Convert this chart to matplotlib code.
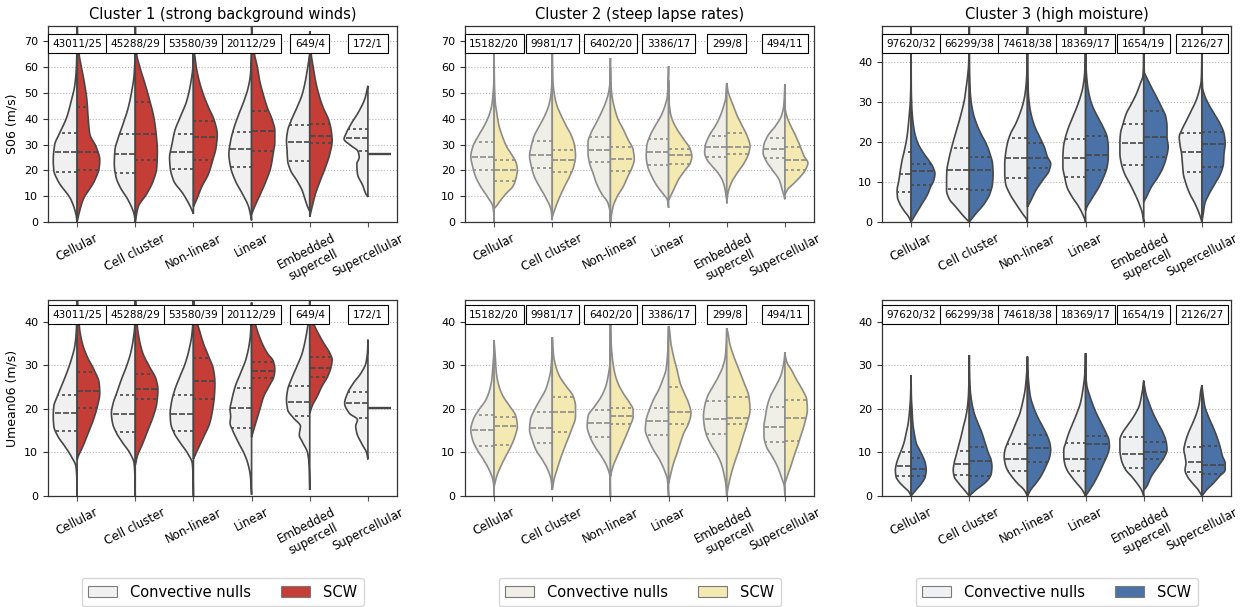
import numpy as np
import matplotlib
matplotlib.use("Agg")
import matplotlib.pyplot as plt
from matplotlib.patches import Patch

# ---------------------------------------------------------------- data
CATEGORIES = ["Cellular", "Cell cluster", "Non-linear", "Linear",
              "Embedded\nsupercell", "Supercellular"]
CLUSTER_TITLES = ["Cluster 1 (strong background winds)",
                  "Cluster 2 (steep lapse rates)",
                  "Cluster 3 (high moisture)"]
VARIABLE_LABELS = ["S06 (m/s)", "Umean06 (m/s)"]

C1_NULL_COUNTS = [43011, 45288, 53580, 20112, 649, 172]
C1_SCW_COUNTS = [25, 29, 39, 29, 4, 1]
C2_NULL_COUNTS = [15182, 9981, 6402, 3386, 299, 494]
C2_SCW_COUNTS = [20, 17, 20, 17, 8, 11]
C3_NULL_COUNTS = [97620, 66299, 74618, 18369, 1654, 2126]
C3_SCW_COUNTS = [32, 38, 38, 17, 19, 27]

# Density profiles: (value, scaled half-width) pairs per category.
# A bare number stands for a single observation.
C1_S06_NULL_SHAPE = [
    [(0, 0), (3, 0.02), (8.4, 0.10), (16, 0.33), (20, 0.40), (24, 0.41), (30, 0.385), (34, 0.31), (40.5, 0.18), (47, 0.10), (53, 0.04), (60, 0.012), (68, 0.003), (80, 0)],
    [(0, 0), (3, 0.02), (8.4, 0.12), (13.5, 0.26), (17.4, 0.33), (22.5, 0.36), (27.7, 0.35), (32.8, 0.29), (38, 0.21), (44.4, 0.12), (50.8, 0.06), (57, 0.02), (65, 0.004), (80, 0)],
    [(3.2, 0), (5.8, 0.05), (11, 0.18), (16, 0.34), (21.2, 0.40), (25, 0.41), (30, 0.37), (35.4, 0.32), (40.5, 0.23), (47, 0.115), (53.4, 0.05), (60, 0.01), (65.5, 0)],
    [(0.6, 0), (5.8, 0.05), (11, 0.16), (16, 0.28), (21.2, 0.36), (26.4, 0.39), (31.5, 0.36), (36.7, 0.30), (41.8, 0.22), (47, 0.13), (52, 0.06), (57, 0.02), (65, 0)],
    [(4.2, 0), (5.8, 0.035), (8.4, 0.075), (12.2, 0.13), (16, 0.22), (20, 0.33), (23.8, 0.38), (27.7, 0.39), (31.5, 0.40), (35.4, 0.38), (39.3, 0.32), (44.4, 0.22), (49.5, 0.13), (54.7, 0.075), (60, 0.035), (65, 0)],
    [(9.7, 0), (10.9, 0.035), (14.2, 0.09), (18.7, 0.18), (22.5, 0.19), (25.1, 0.15), (27.4, 0.17), (29.6, 0.29), (32.2, 0.41), (34.1, 0.38), (38, 0.29), (43.1, 0.15), (48, 0.05), (52.8, 0)],
]
C1_S06_SCW_SHAPE = [
    [(0, 0), (3, 0.03), (8.4, 0.10), (16, 0.30), (21, 0.38), (24, 0.39), (29, 0.33), (34, 0.22), (40.5, 0.19), (47, 0.17), (53.4, 0.13), (60, 0.075), (65, 0.035), (72, 0.01), (82, 0)],
    [(0, 0), (5.8, 0.05), (11, 0.2), (16, 0.31), (21.2, 0.37), (27.7, 0.38), (34, 0.36), (40.5, 0.32), (47, 0.25), (53.4, 0.17), (60, 0.08), (65, 0.025), (72, 0.005), (82, 0)],
    [(6, 0), (8.4, 0.05), (13.5, 0.14), (18.7, 0.26), (23.8, 0.33), (29, 0.39), (34, 0.41), (39.3, 0.36), (44.4, 0.26), (49.5, 0.17), (54.7, 0.10), (60, 0.05), (65, 0.02), (68, 0)],
    [(3, 0), (5.8, 0.05), (11, 0.155), (16, 0.25), (21.2, 0.33), (26.4, 0.37), (31.5, 0.40), (35.4, 0.40), (39.3, 0.36), (44.4, 0.27), (49.5, 0.20), (54.7, 0.14), (60, 0.10), (65, 0.05), (70, 0.015), (76, 0)],
    [(2, 0), (5.8, 0.04), (11, 0.10), (16, 0.18), (21.2, 0.27), (26.4, 0.345), (31.5, 0.385), (35.4, 0.37), (39.3, 0.33), (44.4, 0.23), (49.5, 0.155), (54.7, 0.10), (60, 0.06), (65, 0.025), (70, 0.005), (74, 0)],
    26.5,
]
C1_S06_NULL_QUART = [(19.5, 27, 34.5), (19, 26.3, 34), (20.5, 27, 34), (21.5, 28.3, 35), (23.8, 31, 37.5), (27.5, 32.6, 36.2)]
C1_S06_SCW_QUART = [(20, 27, 44.5), (24, 34.3, 46.5), (24, 33, 39), (27.5, 35.3, 43), (30.5, 33.5, 38), None]

C1_UMEAN_NULL_SHAPE = [
    [(0, 0), (4, 0.005), (6.8, 0.02), (9.1, 0.10), (11.4, 0.21), (13.7, 0.33), (16, 0.40), (18.3, 0.41), (20.6, 0.40), (22.9, 0.34), (25.2, 0.27), (28.2, 0.18), (31.3, 0.10), (34.4, 0.04), (37.5, 0.015), (42, 0.003), (48, 0)],
    [(0, 0), (4, 0.005), (7.5, 0.02), (9.8, 0.09), (12.1, 0.21), (14.4, 0.32), (16.7, 0.39), (19, 0.41), (21.3, 0.38), (23.6, 0.32), (26.7, 0.24), (29.8, 0.15), (32.8, 0.08), (35.9, 0.035), (39, 0.01), (48, 0)],
    [(0, 0), (4, 0.005), (7.5, 0.02), (9.8, 0.10), (12.1, 0.22), (14.4, 0.33), (16.7, 0.39), (19, 0.40), (21.3, 0.38), (24.4, 0.32), (27.5, 0.23), (30.5, 0.14), (33.6, 0.075), (36.7, 0.03), (39.8, 0.01), (48, 0)],
    [(0.3, 0), (4.5, 0.02), (7.5, 0.065), (9.8, 0.13), (12.1, 0.22), (15.2, 0.33), (16.7, 0.37), (18.3, 0.36), (19.8, 0.37), (22.1, 0.34), (25.2, 0.28), (28.2, 0.19), (31.3, 0.10), (34.4, 0.046), (37.5, 0.017), (44.4, 0)],
    [(1.4, 0), (6.8, 0.01), (9.8, 0.035), (12.5, 0.13), (14, 0.18), (16, 0.16), (17.9, 0.28), (19.8, 0.38), (22.1, 0.40), (24.4, 0.38), (26.7, 0.32), (29.8, 0.22), (32.8, 0.13), (35.9, 0.075), (39, 0.035), (42, 0.01), (45, 0)],
    [(8.4, 0), (9.8, 0.02), (12.1, 0.11), (14.4, 0.19), (16, 0.21), (17.5, 0.18), (19, 0.32), (21.3, 0.40), (23.6, 0.35), (25.9, 0.25), (28.2, 0.12), (30.5, 0.035), (33.6, 0.005), (35.9, 0)],
]
C1_UMEAN_SCW_SHAPE = [
    [(8.3, 0), (9.1, 0.02), (11.4, 0.10), (14.4, 0.19), (17.5, 0.28), (20.6, 0.35), (23.6, 0.39), (25.9, 0.38), (29, 0.29), (32.1, 0.17), (35.1, 0.09), (38.2, 0.045), (40.5, 0.03), (44, 0.012), (48, 0)],
    [(7.1, 0), (9.1, 0.035), (12.1, 0.13), (15.2, 0.22), (18.3, 0.31), (21.3, 0.37), (24.4, 0.39), (26.7, 0.36), (29.8, 0.24), (32.8, 0.13), (35.9, 0.07), (39, 0.035), (42, 0.02), (48, 0)],
    [(8.5, 0), (9.1, 0.02), (11.4, 0.10), (13.7, 0.18), (16.7, 0.28), (19.8, 0.33), (22.9, 0.36), (25.9, 0.37), (29, 0.345), (32.1, 0.26), (35.1, 0.17), (38.2, 0.10), (40.5, 0.05), (44, 0.015), (48, 0)],
    [(13.5, 0), (16.7, 0.07), (19.8, 0.14), (22.9, 0.21), (25.2, 0.30), (27.5, 0.385), (29, 0.40), (30.9, 0.375), (32.8, 0.27), (35.1, 0.18), (37.5, 0.11), (39.8, 0.06), (42, 0.03), (44.4, 0)],
    [(19, 0), (20.6, 0.04), (22.9, 0.13), (25.2, 0.21), (27.5, 0.31), (29.8, 0.37), (31.3, 0.385), (32.8, 0.345), (35.1, 0.24), (37.5, 0.14), (39.4, 0.07), (40.5, 0.03), (41.5, 0)],
    20.2,
]
C1_UMEAN_NULL_QUART = [(15, 19, 23.2), (14.7, 18.9, 23.3), (14.9, 18.8, 23.3), (15.6, 20.2, 24.8), (18.4, 21.6, 25.2), (17.9, 21.3, 23.8)]
C1_UMEAN_SCW_QUART = [(20.3, 24, 28.4), (22.3, 24.5, 28), (22.2, 26.3, 31.6), (27, 28.8, 30.8), (27.4, 29.4, 32), None]

C2_S06_NULL_SHAPE = [
    [(0, 0), (3, 0.005), (5.9, 0.02), (9.8, 0.115), (13.7, 0.23), (17.7, 0.32), (21.6, 0.37), (25.5, 0.40), (29.5, 0.36), (33.4, 0.27), (37.3, 0.17), (41.2, 0.09), (45.2, 0.04), (49, 0.02), (54.3, 0.005), (66, 0)],
    [(0.7, 0), (4.6, 0.02), (9.8, 0.12), (13.7, 0.22), (17.7, 0.31), (21.6, 0.36), (25.5, 0.39), (29.5, 0.36), (33.4, 0.31), (37.3, 0.22), (41.2, 0.13), (45.2, 0.06), (49, 0.025), (55, 0.005), (66, 0)],
    [(0, 0), (3.3, 0.005), (7.2, 0.04), (11.1, 0.155), (15, 0.24), (19, 0.30), (22.9, 0.36), (26.8, 0.385), (30.8, 0.385), (34.7, 0.33), (38.6, 0.24), (42.5, 0.155), (46.5, 0.08), (50.4, 0.03), (55, 0.005), (63.6, 0)],
    [(5.5, 0), (8.5, 0.02), (11.1, 0.10), (13.7, 0.19), (17.7, 0.29), (21.6, 0.36), (25.5, 0.385), (29.5, 0.375), (33.4, 0.32), (37.3, 0.23), (41.2, 0.13), (45.2, 0.06), (49, 0.02), (60.5, 0)],
    [(8.8, 0), (13.7, 0.04), (16.4, 0.08), (19, 0.15), (21.6, 0.25), (24.2, 0.34), (26.8, 0.38), (29.5, 0.37), (32.1, 0.33), (34.7, 0.27), (37.3, 0.195), (41.2, 0.11), (45.2, 0.05), (47.8, 0.02), (53.8, 0)],
    [(8.8, 0), (12.4, 0.045), (16.4, 0.10), (20.3, 0.22), (24.2, 0.335), (26.8, 0.375), (29.5, 0.365), (33.4, 0.295), (37.3, 0.16), (41.2, 0.06), (45.2, 0.02), (53.5, 0)],
]
C2_S06_SCW_SHAPE = [
    [(5.2, 0), (5.9, 0.03), (8.5, 0.115), (11.1, 0.21), (13.7, 0.32), (16.4, 0.37), (20.3, 0.40), (22.9, 0.38), (25.5, 0.32), (29.5, 0.21), (33.4, 0.14), (37.3, 0.085), (42.5, 0.045), (46.5, 0.02), (55, 0.005), (66, 0)],
    [(2, 0), (5.9, 0.06), (9.8, 0.13), (13.7, 0.21), (17.7, 0.30), (21.6, 0.37), (25.5, 0.40), (29.5, 0.385), (33.4, 0.33), (37.3, 0.24), (41.2, 0.155), (45.2, 0.08), (49, 0.04), (55, 0.01), (66, 0)],
    [(0, 0), (5.9, 0.045), (9.8, 0.115), (13.7, 0.22), (17.7, 0.30), (21.6, 0.38), (24.2, 0.41), (28.1, 0.39), (32.1, 0.30), (36, 0.22), (39.9, 0.13), (43.8, 0.075), (47.8, 0.035), (53, 0.01), (60, 0)],
    [(8.5, 0), (9.8, 0.03), (12.4, 0.085), (16.4, 0.17), (20.3, 0.29), (22.9, 0.375), (25.5, 0.40), (28.1, 0.375), (32.1, 0.26), (36, 0.145), (39.9, 0.06), (42.5, 0.03), (48, 0.005), (55, 0)],
    [(7.2, 0), (11.1, 0.02), (15, 0.075), (19, 0.18), (22.9, 0.30), (26.8, 0.38), (29.5, 0.40), (33.4, 0.35), (37.3, 0.265), (41.2, 0.18), (45.2, 0.11), (47.8, 0.065), (50.4, 0.025), (53.8, 0)],
    [(10.5, 0), (12.4, 0.04), (15, 0.155), (17.7, 0.27), (20.3, 0.355), (22.9, 0.395), (25.5, 0.33), (29.5, 0.26), (33.4, 0.185), (37.3, 0.10), (41.2, 0.03), (44, 0.005), (48, 0)],
]
C2_S06_NULL_QUART = [(20, 25.2, 31), (21, 26, 31.3), (23.2, 28, 33), (22.2, 27, 32.3), (25.3, 29, 33.5), (25, 28.5, 32.5)]
C2_S06_SCW_QUART = [(16, 20.2, 24.2), (19.2, 24, 27.8), (19.6, 24.6, 29.2), (22.5, 26, 28.5), (26.5, 29, 34.5), (20.2, 24, 29)]

C2_UMEAN_NULL_SHAPE = [
    [(0, 0), (2.1, 0.005), (3.7, 0.02), (6, 0.085), (8.3, 0.18), (10.6, 0.29), (12.9, 0.37), (15.2, 0.40), (17.5, 0.36), (19.8, 0.26), (22.1, 0.14), (24.4, 0.075), (26.7, 0.04), (29.8, 0.02), (33, 0.005), (35.7, 0)],
    [(1.4, 0), (3.7, 0.02), (6, 0.075), (8.3, 0.17), (10.6, 0.28), (12.9, 0.345), (15.2, 0.39), (17.5, 0.375), (19.8, 0.305), (22.1, 0.21), (24.4, 0.115), (26.7, 0.06), (29, 0.025), (33, 0.005), (36.5, 0)],
    [(0, 0), (4.5, 0.01), (6.8, 0.06), (9.1, 0.155), (11.4, 0.27), (13.7, 0.355), (16, 0.40), (18.3, 0.385), (20.6, 0.27), (22.9, 0.155), (25.2, 0.08), (27.5, 0.04), (30.5, 0.01), (39.5, 0)],
    [(0, 0), (3.7, 0.02), (6, 0.075), (8.3, 0.155), (10.6, 0.26), (12.9, 0.345), (15.2, 0.40), (17.5, 0.385), (19.8, 0.33), (22.1, 0.26), (24.4, 0.17), (26.7, 0.10), (29, 0.045), (32.1, 0.02), (36, 0.005), (39, 0)],
    [(0, 0), (2.1, 0.01), (4.5, 0.04), (6.8, 0.08), (9.1, 0.15), (11.4, 0.255), (13.7, 0.34), (16, 0.385), (18.3, 0.40), (20.6, 0.38), (22.9, 0.33), (25.2, 0.235), (27.5, 0.14), (29.8, 0.065), (32.1, 0.025), (35.9, 0.005), (38.5, 0)],
    [(0, 0), (2.1, 0.01), (4.5, 0.065), (6.8, 0.13), (9.1, 0.22), (11.4, 0.32), (13.7, 0.36), (16, 0.36), (18.3, 0.335), (20.6, 0.305), (22.9, 0.25), (25.2, 0.16), (27.5, 0.075), (29.8, 0.03), (31.5, 0.01), (33, 0)],
]
C2_UMEAN_SCW_SHAPE = [
    [(2.1, 0), (4.5, 0.045), (6.8, 0.115), (9.1, 0.20), (11.4, 0.29), (13.7, 0.36), (16, 0.40), (18.3, 0.375), (20.6, 0.27), (22.9, 0.155), (25.2, 0.085), (28.2, 0.04), (32.1, 0.02), (35.7, 0)],
    [(1.4, 0), (3.7, 0.03), (6, 0.08), (9.1, 0.155), (12.1, 0.24), (15.2, 0.33), (18.3, 0.40), (20.6, 0.40), (22.9, 0.36), (25.2, 0.24), (27.5, 0.125), (29.8, 0.06), (32.1, 0.025), (36.5, 0)],
    [(4.5, 0), (6.8, 0.045), (9.1, 0.115), (11.4, 0.19), (13.7, 0.265), (16, 0.335), (18.3, 0.39), (19.8, 0.39), (21.3, 0.335), (23.6, 0.22), (25.9, 0.13), (28.2, 0.075), (32.1, 0.03), (36, 0.01), (39.5, 0)],
    [(2.9, 0), (5.2, 0.04), (7.5, 0.085), (9.8, 0.145), (12.1, 0.20), (14.4, 0.26), (16.7, 0.345), (19, 0.385), (21.3, 0.345), (23.6, 0.27), (25.9, 0.20), (29, 0.145), (32.1, 0.085), (35.1, 0.04), (38.2, 0.015), (39, 0)],
    [(0, 0), (2.1, 0.025), (4.5, 0.065), (7.5, 0.13), (10.6, 0.21), (13.7, 0.28), (16.7, 0.35), (19.8, 0.40), (22.9, 0.38), (25.9, 0.30), (29, 0.21), (32.1, 0.12), (35.1, 0.05), (37.5, 0.02), (38.5, 0)],
    [(2.9, 0), (4.5, 0.04), (6.8, 0.10), (9.1, 0.155), (11.4, 0.215), (13.7, 0.27), (16.7, 0.34), (19.8, 0.385), (22.1, 0.375), (24.4, 0.30), (26.7, 0.20), (29, 0.11), (30.5, 0.04), (32, 0.01), (33, 0)],
]
C2_UMEAN_NULL_QUART = [(11.5, 15.1, 18.7), (12.2, 15.6, 19.2), (13.5, 16.8, 19.8), (14, 17.2, 20.2), (14.3, 17.6, 21.8), (12.4, 15.8, 20.5)]
C2_UMEAN_SCW_QUART = [(11.6, 16.1, 18.2), (14.8, 19.4, 22.8), (16.5, 18.4, 20.1), (16.5, 19.2, 25), (16.5, 18, 22.8), (12.7, 17.9, 22)]

C3_S06_NULL_SHAPE = [
    [(0, 0), (1.25, 0.04), (2.9, 0.125), (4.6, 0.195), (6.25, 0.235), (7.9, 0.24), (10.4, 0.21), (12.9, 0.185), (15.4, 0.155), (17.9, 0.115), (20.4, 0.08), (23.75, 0.05), (27, 0.03), (30.4, 0.012), (36, 0.003), (52, 0)],
    [(0, 0), (1.25, 0.085), (3.75, 0.23), (5.8, 0.345), (7.9, 0.39), (10.4, 0.39), (12.9, 0.385), (15.4, 0.355), (17.9, 0.315), (20.4, 0.27), (22.9, 0.22), (25.4, 0.17), (27.9, 0.125), (30.4, 0.085), (32.9, 0.06), (36.25, 0.03), (39.6, 0.01), (45, 0.002), (52, 0)],
    [(0, 0), (0.5, 0.01), (2.1, 0.085), (4.6, 0.20), (7.1, 0.305), (9.6, 0.375), (12.1, 0.39), (14.6, 0.39), (17.1, 0.375), (19.6, 0.345), (22.1, 0.29), (24.6, 0.20), (27.1, 0.13), (29.6, 0.075), (32.1, 0.04), (35.4, 0.017), (40, 0.004), (52, 0)],
    [(0, 0), (1.25, 0.03), (3.75, 0.115), (6.25, 0.23), (8.75, 0.32), (11.25, 0.36), (13.75, 0.39), (16.25, 0.39), (18.75, 0.38), (21.25, 0.345), (23.75, 0.29), (26.25, 0.22), (28.75, 0.15), (31.25, 0.09), (33.75, 0.046), (37.1, 0.017), (42, 0.004), (52, 0)],
    [(0, 0), (2.1, 0.023), (4.6, 0.08), (7.1, 0.155), (9.6, 0.24), (12.1, 0.33), (14.6, 0.385), (17.1, 0.41), (19.6, 0.41), (22.1, 0.40), (24.6, 0.355), (27.1, 0.30), (29.6, 0.21), (32.1, 0.125), (34.6, 0.06), (36.7, 0.012), (40, 0.002), (52, 0)],
    [(0, 0), (2.1, 0.046), (4.6, 0.12), (7.1, 0.21), (9.6, 0.275), (12.1, 0.32), (14.6, 0.335), (17.1, 0.35), (19.6, 0.38), (21.25, 0.39), (22.9, 0.35), (25.4, 0.265), (27.9, 0.18), (30.4, 0.10), (32.9, 0.046), (35.4, 0.012), (40, 0.003), (52, 0)],
]
C3_S06_SCW_SHAPE = [
    [(0, 0), (2.1, 0.085), (4.6, 0.19), (7.1, 0.29), (8.75, 0.335), (10.4, 0.39), (12.1, 0.41), (13.75, 0.375), (15.4, 0.305), (17.1, 0.22), (19.6, 0.12), (22.1, 0.065), (25.4, 0.03), (28.75, 0.012), (34, 0.003), (52, 0)],
    [(0, 0), (2.1, 0.115), (4.6, 0.26), (7.1, 0.355), (9.6, 0.40), (12.1, 0.41), (14.6, 0.40), (17.1, 0.355), (19.6, 0.29), (22.1, 0.20), (24.6, 0.125), (27.1, 0.07), (30.4, 0.03), (33.75, 0.012), (40, 0.002), (52, 0)],
    [(3.75, 0), (5.4, 0.06), (7.9, 0.145), (10.4, 0.26), (12.9, 0.375), (14.6, 0.40), (16.25, 0.345), (18.75, 0.29), (21.25, 0.21), (23.75, 0.13), (26.25, 0.075), (28.75, 0.04), (32.1, 0.017), (38, 0.003), (52, 0)],
    [(2.9, 0), (3.75, 0.023), (6.25, 0.125), (8.75, 0.23), (11.25, 0.31), (13.75, 0.37), (16.25, 0.39), (18.75, 0.39), (21.25, 0.37), (23.75, 0.30), (26.25, 0.21), (28.75, 0.125), (31.25, 0.07), (34.6, 0.03), (40, 0.005), (52, 0)],
    [(5, 0), (6.25, 0.046), (8.75, 0.13), (11.25, 0.245), (13.75, 0.335), (16.25, 0.39), (18.75, 0.42), (21.25, 0.40), (23.75, 0.40), (26.25, 0.38), (28.75, 0.305), (31.25, 0.22), (33.75, 0.13), (36.25, 0.046), (37.5, 0.01), (42, 0.002), (52, 0)],
    [(0, 0), (2.1, 0.023), (4.6, 0.05), (7.1, 0.127), (9.6, 0.225), (12.1, 0.32), (14.6, 0.37), (17.1, 0.38), (19.6, 0.40), (22.1, 0.38), (24.6, 0.31), (27.1, 0.21), (29.6, 0.11), (32.1, 0.035), (33.75, 0.01), (40, 0.002), (52, 0)],
]
C3_S06_NULL_QUART = [(7.5, 12, 17.5), (8.3, 13, 18.5), (11, 16, 21), (11.2, 16, 20.8), (14.2, 19.8, 24.5), (12.6, 17.5, 22.2)]
C3_S06_SCW_QUART = [(9.2, 12.8, 14.5), (8, 13, 16.3), (13.5, 16, 19.8), (12.9, 16.8, 21.6), (16.3, 21.3, 27.8), (13.8, 19.5, 22.6)]

C3_UMEAN_NULL_SHAPE = [
    [(0, 0), (1, 0.04), (2.1, 0.125), (3.3, 0.21), (4.5, 0.26), (6, 0.27), (7.5, 0.25), (9.1, 0.21), (10.6, 0.165), (12.1, 0.125), (14.4, 0.085), (16.7, 0.05), (19, 0.03), (22.1, 0.012), (25, 0.004), (27.7, 0)],
    [(0, 0), (1.4, 0.085), (2.9, 0.18), (4.5, 0.26), (6, 0.275), (7.5, 0.26), (9.1, 0.23), (11.4, 0.185), (13.7, 0.14), (16, 0.10), (18.3, 0.057), (20.6, 0.03), (23.6, 0.012), (28, 0.003), (32.3, 0)],
    [(0, 0), (1.4, 0.057), (2.9, 0.17), (4.5, 0.27), (6, 0.345), (7.5, 0.385), (9.1, 0.40), (10.6, 0.385), (12.1, 0.345), (14.4, 0.27), (16.7, 0.20), (19, 0.13), (21.3, 0.086), (24.4, 0.04), (27.5, 0.017), (30, 0.005), (32, 0)],
    [(0, 0), (1.4, 0.057), (2.9, 0.15), (4.5, 0.245), (6, 0.32), (7.5, 0.36), (9.1, 0.375), (10.6, 0.375), (12.1, 0.345), (14.4, 0.29), (16.7, 0.22), (19, 0.15), (21.3, 0.09), (24.4, 0.046), (27.5, 0.017), (30, 0.005), (32.8, 0)],
    [(0, 0), (1.4, 0.04), (2.9, 0.115), (4.5, 0.21), (6, 0.31), (8.3, 0.385), (10.6, 0.41), (12.9, 0.41), (14.4, 0.37), (16, 0.29), (17.5, 0.21), (19, 0.14), (20.6, 0.08), (22.9, 0.04), (25.2, 0.012), (26.5, 0)],
    [(0, 0), (1.4, 0.063), (2.9, 0.16), (4.5, 0.25), (6, 0.29), (7.5, 0.275), (9.1, 0.29), (10.6, 0.31), (12.1, 0.29), (14.4, 0.235), (16.7, 0.16), (19, 0.092), (21.3, 0.046), (24.4, 0.017), (25.4, 0)],
]
C3_UMEAN_SCW_SHAPE = [
    [(0, 0), (1.4, 0.085), (2.9, 0.18), (4.5, 0.245), (6, 0.26), (7.5, 0.245), (9.1, 0.20), (10.6, 0.145), (12.1, 0.09), (14.4, 0.055), (16.7, 0.03), (19.8, 0.017), (22.9, 0.005), (27.7, 0)],
    [(0, 0), (1.4, 0.115), (2.9, 0.26), (4.1, 0.345), (5.2, 0.38), (6.75, 0.39), (8.3, 0.375), (9.8, 0.33), (12.1, 0.275), (14.4, 0.22), (16.7, 0.15), (19, 0.086), (21.3, 0.046), (24.4, 0.017), (28, 0.004), (32.3, 0)],
    [(0, 0), (1.4, 0.057), (2.9, 0.145), (4.5, 0.23), (6.75, 0.315), (9.1, 0.385), (10.6, 0.40), (12.1, 0.385), (13.7, 0.345), (16, 0.26), (18.3, 0.17), (20.6, 0.10), (22.9, 0.05), (25.9, 0.023), (29, 0.006), (32, 0)],
    [(0, 0), (1.4, 0.07), (2.9, 0.14), (5.2, 0.23), (7.5, 0.31), (9.8, 0.385), (11.4, 0.41), (12.9, 0.40), (14.4, 0.355), (16.7, 0.27), (19, 0.185), (21.3, 0.115), (23.6, 0.057), (25.2, 0.023), (28, 0.005), (32.8, 0)],
    [(1.4, 0), (2.1, 0.046), (4.5, 0.13), (6.75, 0.245), (9.1, 0.36), (10.6, 0.40), (12.1, 0.39), (14.4, 0.335), (16.7, 0.245), (19, 0.16), (21.3, 0.092), (23.6, 0.035), (26.3, 0)],
    [(0, 0), (1.4, 0.08), (2.9, 0.195), (4.5, 0.30), (6, 0.40), (7.5, 0.40), (9.1, 0.355), (11.4, 0.31), (13.7, 0.255), (16, 0.185), (18.3, 0.11), (20.6, 0.05), (22.9, 0.023), (25.4, 0)],
]
C3_UMEAN_NULL_QUART = [(4.5, 7, 10), (4.9, 7.3, 10.4), (5.7, 8.5, 12), (5.8, 8.6, 12.2), (6.4, 9.6, 13.5), (5.6, 7.7, 11.3)]
C3_UMEAN_SCW_QUART = [(4.6, 6.3, 8.8), (4.6, 8, 11.2), (7.8, 11, 14), (8.6, 12, 13.7), (8.6, 10.1, 12.5), (5.1, 7.2, 11.5)]

# ---------------------------------------------------------------- styling
NULL_COLORS = ["#f0f0f0", "#efefe7", "#eff0f2"]
SCW_COLORS = ["#c43d36", "#f4e9b0", "#4a72a6"]
LINE_COLORS = ["#474747", "#8c8c8c", "#474747"]

plt.rcParams["font.family"] = ["DejaVu Sans"]

FIG_W, FIG_H = 1245, 607
fig = plt.figure(figsize=(FIG_W / 100, FIG_H / 100), dpi=100)

COL_LEFT = [48, 465, 882]
COL_WIDTH = 349
ROW_TOP = [26, 300]
ROW_HEIGHT = 196


def pchip(xk, yk, x):
    """Monotone piecewise-cubic Hermite interpolation (no overshoot)."""
    xk = np.asarray(xk, float)
    yk = np.asarray(yk, float)
    h = np.diff(xk)
    delta = np.diff(yk) / h
    n = len(xk)
    d = np.zeros(n)
    for k in range(1, n - 1):
        if delta[k - 1] * delta[k] > 0:
            w1 = 2 * h[k] + h[k - 1]
            w2 = h[k] + 2 * h[k - 1]
            d[k] = (w1 + w2) / (w1 / delta[k - 1] + w2 / delta[k])
    d[0] = delta[0]
    d[-1] = delta[-1]
    idx = np.clip(np.searchsorted(xk, x) - 1, 0, n - 2)
    t = (x - xk[idx]) / h[idx]
    h00 = 2 * t**3 - 3 * t**2 + 1
    h10 = t**3 - 2 * t**2 + t
    h01 = -2 * t**3 + 3 * t**2
    h11 = t**3 - t**2
    out = (h00 * yk[idx] + h10 * h[idx] * d[idx]
           + h01 * yk[idx + 1] + h11 * h[idx] * d[idx + 1])
    return np.clip(out, 0, None)


def draw_half(ax, pos, shape, quart, side, face, edge):
    lw = 1.2
    if np.isscalar(shape):
        ax.plot([pos, pos + side * 0.4], [shape, shape], color=edge, lw=lw * 1.4,
                solid_capstyle="butt", zorder=3)
        return
    ys = [p[0] for p in shape]
    ws = [p[1] for p in shape]
    yy = np.linspace(ys[0], ys[-1], 500)
    ww = pchip(ys, ws, yy)
    xs = np.concatenate([[pos], pos + side * ww, [pos]])
    yv = np.concatenate([[yy[0]], yy, [yy[-1]]])
    ax.fill(xs, yv, facecolor=face, edgecolor=edge, linewidth=lw, zorder=2)
    if quart is not None:
        for k, q in enumerate(quart):
            wq = float(pchip(ys, ws, np.array([q]))[0])
            dashes = (3.6, 1.2) if k == 1 else (1.8, 1.8)
            ax.plot([pos, pos + side * wq], [q, q], color=edge, lw=lw,
                    dashes=dashes, zorder=3, solid_capstyle="butt",
                    dash_capstyle="butt")


PANELS = [
    # (row, col, null shape, scw shape, null quart, scw quart, ylim, yticks)
    (0, 0, C1_S06_NULL_SHAPE, C1_S06_SCW_SHAPE, C1_S06_NULL_QUART, C1_S06_SCW_QUART, 76, np.arange(0, 71, 10)),
    (1, 0, C1_UMEAN_NULL_SHAPE, C1_UMEAN_SCW_SHAPE, C1_UMEAN_NULL_QUART, C1_UMEAN_SCW_QUART, 45, np.arange(0, 41, 10)),
    (0, 1, C2_S06_NULL_SHAPE, C2_S06_SCW_SHAPE, C2_S06_NULL_QUART, C2_S06_SCW_QUART, 76, np.arange(0, 71, 10)),
    (1, 1, C2_UMEAN_NULL_SHAPE, C2_UMEAN_SCW_SHAPE, C2_UMEAN_NULL_QUART, C2_UMEAN_SCW_QUART, 45, np.arange(0, 41, 10)),
    (0, 2, C3_S06_NULL_SHAPE, C3_S06_SCW_SHAPE, C3_S06_NULL_QUART, C3_S06_SCW_QUART, 49, np.arange(0, 41, 10)),
    (1, 2, C3_UMEAN_NULL_SHAPE, C3_UMEAN_SCW_SHAPE, C3_UMEAN_NULL_QUART, C3_UMEAN_SCW_QUART, 45, np.arange(0, 41, 10)),
]
COUNTS = [(C1_NULL_COUNTS, C1_SCW_COUNTS), (C2_NULL_COUNTS, C2_SCW_COUNTS),
          (C3_NULL_COUNTS, C3_SCW_COUNTS)]

for row, col, nshape, sshape, nq, sq, ytop, yticks in PANELS:
    left = COL_LEFT[col] / FIG_W
    bottom = 1 - (ROW_TOP[row] + ROW_HEIGHT) / FIG_H
    ax = fig.add_axes([left, bottom, COL_WIDTH / FIG_W, ROW_HEIGHT / FIG_H])
    ax.set_axisbelow(True)
    ax.yaxis.grid(True, linestyle=":", color="#b5b5b5", linewidth=0.8)
    for i in range(len(CATEGORIES)):
        draw_half(ax, i, nshape[i], nq[i], -1, NULL_COLORS[col], LINE_COLORS[col])
        draw_half(ax, i, sshape[i], sq[i], +1, SCW_COLORS[col], LINE_COLORS[col])
    ax.set_xlim(-0.5, len(CATEGORIES) - 0.5)
    ax.set_ylim(0, ytop)
    ax.set_yticks(yticks)
    ax.set_xticks(range(len(CATEGORIES)))
    ax.set_xticklabels(CATEGORIES, rotation=27, ha="center", fontsize=8.5,
                       multialignment="center")
    ax.tick_params(axis="y", labelsize=8, length=3.5, color="#333333")
    ax.tick_params(axis="x", length=3.5, color="#555555")
    for sp in ax.spines.values():
        sp.set_color("#333333")
        sp.set_linewidth(0.9)
    if row == 0:
        ax.set_title(CLUSTER_TITLES[col], fontsize=10.5, pad=5)
    if col == 0:
        ax.set_ylabel(VARIABLE_LABELS[row], fontsize=9)
    nulls, scws = COUNTS[col]
    ybox = 0.91 if row == 0 else 0.925
    for i in range(len(CATEGORIES)):
        ax.text(i, ybox, f"{nulls[i]}/{scws[i]}", transform=ax.get_xaxis_transform(),
                ha="center", va="center", fontsize=7.5, zorder=6,
                bbox=dict(boxstyle="square,pad=0.45", fc="white", ec="black", lw=0.8))
    if row == 1:
        handles = [Patch(facecolor=NULL_COLORS[col], edgecolor="#7a7a7a", linewidth=0.8,
                         label="Convective nulls"),
                   Patch(facecolor=SCW_COLORS[col], edgecolor="#7a7a7a", linewidth=0.8,
                         label="SCW")]
        ax.legend(handles=handles, loc="center", bbox_to_anchor=(0.5, -0.49),
                  ncol=2, fontsize=10.5, frameon=True, edgecolor="#cccccc",
                  handlelength=2.0, handletextpad=0.9, columnspacing=2.0,
                  borderpad=0.45)

fig.savefig("out.png", dpi=100)
